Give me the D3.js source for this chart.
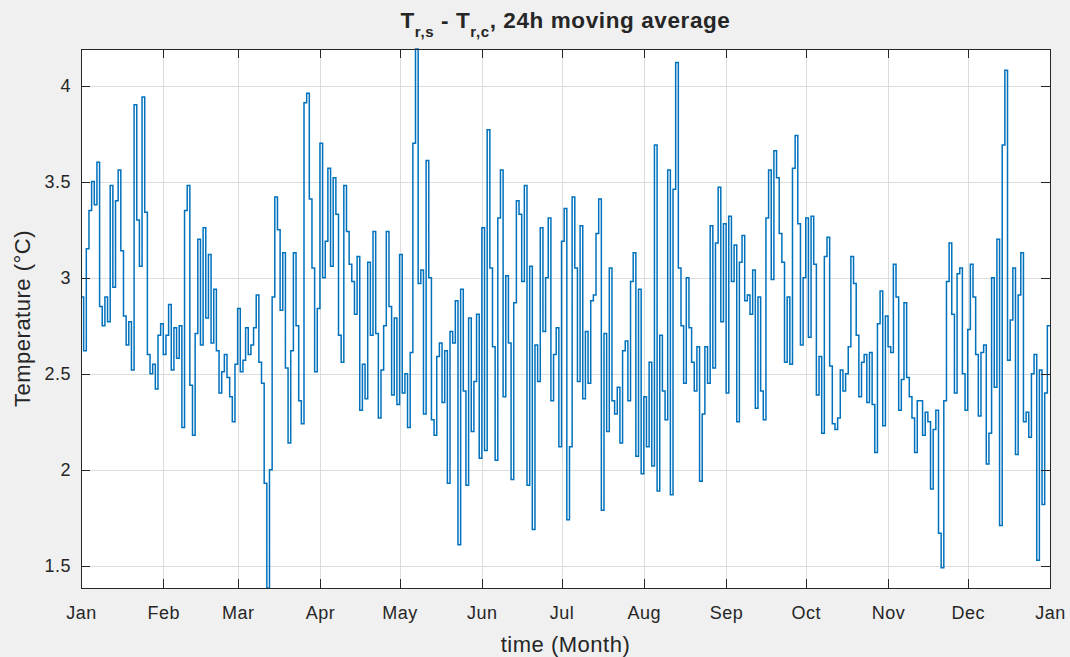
<!DOCTYPE html>
<html>
<head>
<meta charset="utf-8">
<script src="https://cdn.jsdelivr.net/npm/d3@7"></script>
<style>
  body { margin: 0; background: #f0f0f0; }
  text { font-family: "Liberation Sans", Arial, Helvetica, sans-serif; fill: #262626; }
</style>
</head>
<body>
<div id="Vis"></div>
<script>
// daily values (24h moving average, degC), read month by month
var jan = [2.9, 2.62, 3.15, 3.35, 3.5, 3.38, 3.6, 2.85, 2.75, 2.9, 2.77, 3.48, 2.95, 3.4, 3.56, 3.14, 2.8, 2.65, 2.77, 2.52, 3.9, 3.3, 3.06, 3.94, 3.34, 2.6, 2.5, 2.55, 2.42, 2.7, 2.76];
var feb = [2.6, 2.7, 2.86, 2.52, 2.74, 2.58, 2.75, 2.22, 3.35, 3.48, 2.44, 2.18, 2.71, 3.2, 2.65, 3.26, 2.79, 3.12, 2.66, 2.94, 2.62, 2.4, 2.51, 2.6, 2.48, 2.38, 2.25, 2.55];
var mar = [2.84, 2.51, 2.57, 2.74, 2.6, 2.65, 2.74, 2.91, 2.56, 2.45, 1.93, 1.385, 2.0, 2.9, 3.42, 3.25, 2.83, 3.13, 2.53, 2.14, 2.62, 3.13, 2.75, 2.36, 2.24, 3.91, 3.96, 3.41, 3.05, 2.51, 2.84];
var apr = [3.7, 3.0, 3.19, 3.57, 3.06, 3.52, 3.33, 2.7, 2.56, 3.48, 3.24, 3.07, 2.98, 2.81, 3.11, 2.31, 2.55, 2.37, 3.08, 2.7, 3.24, 2.71, 2.27, 2.52, 2.75, 3.24, 2.85, 2.39, 2.79, 2.34];
var may = [3.12, 2.4, 2.5, 2.22, 2.61, 3.7, 4.19, 2.97, 3.04, 2.29, 3.61, 3.0, 2.26, 2.18, 2.59, 2.66, 2.35, 2.62, 1.93, 2.72, 2.66, 2.88, 1.61, 2.94, 2.41, 1.92, 2.79, 2.2, 2.46, 2.81, 2.06];
var jun = [3.26, 2.1, 3.77, 3.05, 2.64, 2.05, 3.31, 3.56, 2.38, 3.01, 2.66, 1.95, 2.87, 3.4, 3.33, 2.98, 3.48, 1.92, 3.06, 1.69, 2.65, 2.46, 3.26, 2.72, 3.0, 3.31, 2.36, 2.6, 2.74, 2.12];
var jul = [3.19, 3.36, 1.74, 2.12, 3.42, 3.05, 2.46, 3.27, 2.37, 2.72, 2.45, 2.88, 2.91, 3.23, 3.41, 1.79, 2.71, 2.2, 3.05, 2.36, 2.29, 2.43, 2.14, 2.62, 2.67, 2.36, 2.98, 3.13, 2.07, 2.94, 1.98];
var aug = [2.38, 2.12, 2.56, 2.02, 3.69, 1.89, 2.7, 2.41, 2.26, 3.56, 1.87, 3.46, 4.12, 3.05, 2.75, 2.45, 3.0, 2.74, 2.56, 2.41, 2.64, 1.94, 2.29, 2.64, 2.45, 3.27, 2.53, 3.18, 3.47, 2.77, 3.28];
var sep = [2.4, 3.32, 2.98, 3.17, 2.25, 3.08, 3.22, 2.88, 2.91, 2.81, 3.04, 2.32, 2.9, 2.41, 2.26, 3.31, 3.56, 2.99, 3.66, 3.52, 3.23, 3.08, 2.56, 2.9, 2.55, 3.57, 3.74, 3.28, 2.65, 3.0];
var oct = [3.31, 2.69, 3.32, 3.07, 2.39, 2.59, 2.19, 3.11, 3.21, 2.54, 2.24, 2.21, 2.27, 2.52, 2.41, 2.5, 2.64, 3.11, 2.97, 2.7, 2.38, 2.56, 2.6, 2.35, 2.61, 2.34, 2.09, 2.76, 2.93, 2.23, 2.8];
var nov = [2.64, 2.61, 3.07, 2.9, 2.31, 2.47, 2.87, 2.48, 2.38, 2.27, 2.09, 2.36, 2.36, 2.18, 2.3, 2.25, 1.9, 2.21, 2.31, 1.67, 1.49, 2.36, 2.98, 3.18, 2.81, 2.4, 3.02, 3.05, 2.5, 2.31];
var dec = [2.73, 3.07, 2.9, 2.6, 2.28, 2.61, 2.65, 2.03, 2.19, 3.0, 2.43, 3.2, 1.71, 3.69, 4.08, 2.57, 2.78, 3.05, 2.08, 2.91, 3.13, 2.25, 2.3, 2.17, 2.5, 2.6, 1.53, 2.52, 1.82, 2.4, 2.75];

var monthLabels = ["Jan", "Feb", "Mar", "Apr", "May", "Jun", "Jul", "Aug", "Sep", "Oct", "Nov", "Dec", "Jan"];
var yTicks = [1.5, 2, 2.5, 3, 3.5, 4];

// set the dimensions and margins of the graph
var margin = {top: 49, right: 20, bottom: 69, left: 81},
    width = 969,
    height = 539;

var svg = d3.select("#Vis")
  .append("svg")
    .attr("width", 1070)
    .attr("height", 657)
  .append("g")
    .attr("transform", "translate(" + margin.left + "," + margin.top + ")");

// build the series: one point per day
var start = new Date(2019, 0, 1),
    end = new Date(2020, 0, 1);
var data = [];
[jan, feb, mar, apr, may, jun, jul, aug, sep, oct, nov, dec].forEach(function(m) {
  m.forEach(function(v) {
    data.push({date: d3.timeDay.offset(start, data.length), value: v});
  });
});
data.push({date: end, value: data[data.length - 1].value});

var monthTicks = d3.timeMonth.range(start, d3.timeDay.offset(end, 1));

var x = d3.scaleTime()
  .domain([start, end])
  .range([0, width]);

var y = d3.scaleLinear()
  .domain(d3.extent(data, function(d) { return d.value; }))
  .range([height, 0]);

// white plot area
svg.append("rect")
  .attr("width", width)
  .attr("height", height)
  .attr("fill", "#ffffff");

// grid
svg.append("g")
  .attr("class", "grid")
  .attr("transform", "translate(0," + height + ")")
  .call(d3.axisBottom(x).tickValues(monthTicks).tickSize(-height).tickFormat(""));
svg.append("g")
  .attr("class", "grid")
  .call(d3.axisLeft(y).tickValues(yTicks).tickSize(-width).tickFormat(""));
svg.selectAll(".grid .domain").remove();
svg.selectAll(".grid line")
  .attr("stroke", "#dcdcdc")
  .attr("shape-rendering", "crispEdges");

// the line
svg.append("path")
  .datum(data)
  .attr("fill", "none")
  .attr("stroke", "#0072bd")
  .attr("stroke-width", 1.5)
  .attr("d", d3.line()
    .curve(d3.curveStepAfter)
    .x(function(d) { return x(d.date) })
    .y(function(d) { return y(d.value) })
  );

// axes, ticks pointing inward
var xAxis = svg.append("g")
  .attr("transform", "translate(0," + height + ")")
  .call(d3.axisBottom(x).tickValues(monthTicks).tickSizeInner(-9).tickSizeOuter(0).tickPadding(18)
    .tickFormat(function(d, i) { return monthLabels[i]; }));
var yAxis = svg.append("g")
  .call(d3.axisLeft(y).tickValues(yTicks).tickSizeInner(-9).tickSizeOuter(0).tickPadding(10)
    .tickFormat(function(d) { return String(d); }));
svg.append("g")
  .call(d3.axisTop(x).tickValues(monthTicks).tickSizeInner(-9).tickSizeOuter(0).tickFormat(""));
svg.append("g")
  .attr("transform", "translate(" + width + ",0)")
  .call(d3.axisRight(y).tickValues(yTicks).tickSizeInner(-9).tickSizeOuter(0).tickFormat(""));

svg.selectAll(".domain").remove();
svg.selectAll(".tick line")
  .filter(function() { return this.parentNode.parentNode.getAttribute("class") != "grid"; })
  .attr("stroke", "#262626")
  .attr("shape-rendering", "crispEdges");
svg.selectAll(".tick text")
  .attr("font-size", "18px")
  .attr("letter-spacing", "0.5px")
  .attr("fill", "#262626");

// box
svg.append("rect")
  .attr("width", width)
  .attr("height", height)
  .attr("fill", "none")
  .attr("stroke", "#262626")
  .attr("stroke-width", 1)
  .attr("shape-rendering", "crispEdges");

// axis labels
svg.append("text")
  .attr("x", width / 2)
  .attr("y", height + 64)
  .attr("text-anchor", "middle")
  .attr("font-size", "22px")
  .attr("letter-spacing", "0.5px")
  .text("time (Month)");

svg.append("text")
  .attr("transform", "translate(" + (30 - margin.left) + "," + (height / 2) + ") rotate(-90)")
  .attr("text-anchor", "middle")
  .attr("font-size", "22px")
  .attr("letter-spacing", "0.5px")
  .text("Temperature (°C)");

// title with subscripts
var title = svg.append("text")
  .attr("x", width / 2)
  .attr("y", -21)
  .attr("text-anchor", "middle")
  .attr("font-size", "22.5px")
  .attr("font-weight", "bold")
  .attr("letter-spacing", "0.6px");
title.append("tspan").text("T");
title.append("tspan").attr("font-size", "15px").attr("dy", 9).text("r,s");
title.append("tspan").attr("dy", -9).text(" - T");
title.append("tspan").attr("font-size", "15px").attr("dy", 9).text("r,c");
title.append("tspan").attr("dy", -9).text(", 24h moving average");
</script>
</body>
</html>
